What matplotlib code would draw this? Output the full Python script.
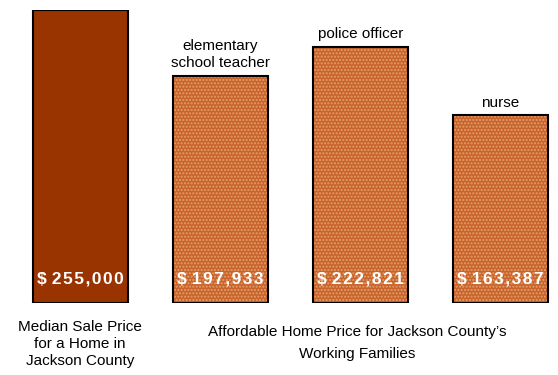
import matplotlib
matplotlib.use('Agg')
import matplotlib.pyplot as plt

# data
categories = ['Median Sale Price', 'elementary\nschool teacher', 'police officer', 'nurse']
prices = [255000, 197933, 222821, 163387]
price_labels = ['$ 255,000', '$ 197,933', '$ 222,821', '$ 163,387']

plt.rcParams['hatch.linewidth'] = 1.0
font = ['Liberation Sans', 'DejaVu Sans']

W, H = 558, 375
fig = plt.figure(figsize=(W / 100, H / 100), dpi=100)
# axes in pixel coords: zero line at y=303 from top, 255000 at y=10
ax = fig.add_axes([24.5 / W, 72 / H, 532 / W, 293 / H])
ax.set_xlim(-0.4, 3.4)
ax.set_ylim(0, 255000)
ax.axis('off')

x = range(len(prices))
width = 95 / 140
for i in x:
    if i == 0:
        ax.bar(i, prices[i], width, color='#993300', edgecolor='black', linewidth=1.5)
    else:
        ax.bar(i, prices[i], width, facecolor='#C8632C', edgecolor='#E4A06A',
               hatch='.....', linewidth=0)
        ax.bar(i, prices[i], width, fill=False, edgecolor='black', linewidth=1.5)
    # spread the letters a little, like the original
    spaced = '\u200a'.join(price_labels[i].replace('$ ', '$')).replace('$', '$\u2009', 1)
    ax.text(i, 21000, spaced, ha='center', va='center', color='white',
            fontsize=12.5, fontweight='bold', family=font)
    if i > 0:
        ax.text(i, prices[i] + 5000, categories[i], ha='center', va='bottom',
                fontsize=11, family=font, linespacing=1.3, clip_on=False)

fig.text(80 / W, 1 - 344 / H, 'Median Sale Price\nfor a Home in\nJackson County',
         ha='center', va='center', fontsize=11, family=font, linespacing=1.3)
fig.text(357 / W, 1 - 343 / H, 'Affordable Home Price for Jackson County\u2019s\nWorking Families',
         ha='center', va='center', fontsize=11, family=font, linespacing=1.75)

fig.savefig('out.png', dpi=100)
